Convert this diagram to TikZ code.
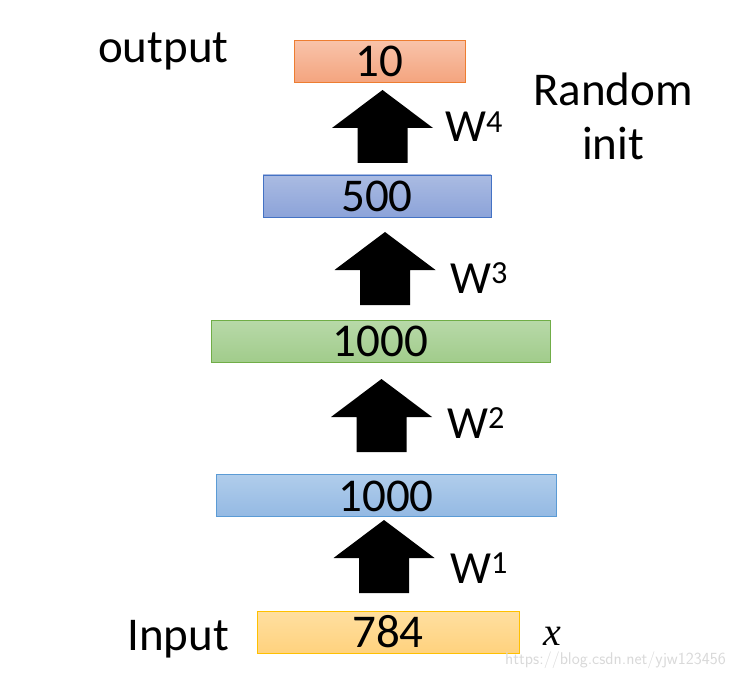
\documentclass[tikz,border=0pt]{standalone}
\usepackage{fontspec}
\setmainfont{Carlito}
\newfontfamily\xfont{Liberation Serif}
\usetikzlibrary{calc}
\definecolor{orBd}{HTML}{ED7D31}\definecolor{orT}{HTML}{F8C3AA}\definecolor{orB}{HTML}{F4A47E}
\definecolor{puBd}{HTML}{4472C4}\definecolor{puT}{HTML}{AABBE2}\definecolor{puB}{HTML}{8CA3D9}
\definecolor{grBd}{HTML}{70AD47}\definecolor{grT}{HTML}{B8D9A9}\definecolor{grB}{HTML}{A1CC8B}
\definecolor{blBd}{HTML}{5B9BD5}\definecolor{blT}{HTML}{B0CDEB}\definecolor{blB}{HTML}{94B9E3}
\definecolor{yeBd}{HTML}{FFC000}\definecolor{yeT}{HTML}{FFDFA0}\definecolor{yeB}{HTML}{FFD27E}
\tikzset{
  layer/.style={draw, line width=0.9pt, inner sep=0pt, minimum height=42pt,
    font=\fontsize{47}{47}\selectfont, text depth=0pt, text height=31pt},
  lbl/.style={font=\fontsize{47}{47}\selectfont, inner sep=0pt, anchor=base west},
  wlbl/.style={font=\fontsize{46}{46}\selectfont, inner sep=0pt, anchor=base west},
}
\newcommand{\blockup}[2]{% center x, tip y
  \fill (#1,#2) -- ++(50.5,38) -- ++(-25.5,0) -- ++(0,35) -- ++(-50,0) -- ++(0,-35) -- ++(-25.5,0) -- cycle;}
\begin{document}
\begin{tikzpicture}[x=1pt,y=-1pt]
\useasboundingbox (0,0) rectangle (738,676);
% layers
\node[layer, draw=orBd, top color=orT, bottom color=orB, minimum width=171pt] (l10) at (379.5,61.5) {10};
\node[layer, draw=puBd, top color=puT, bottom color=puB, minimum width=228pt] (l500) at (377,196) {500};
\node[layer, draw=grBd, top color=grT, bottom color=grB, minimum width=339pt] (l1000b) at (380.5,341) {1000};
\node[layer, draw=blBd, top color=blT, bottom color=blB, minimum width=340pt] (l1000a) at (386,495.5) {1000};
\node[layer, draw=yeBd, top color=yeT, bottom color=yeB, minimum width=262pt] (l784) at (388,632) {784};
% block arrows
\blockup{382.5}{90}
\blockup{385}{232}
\blockup{381.5}{379}
\blockup{384}{520}
% weight labels
\node[wlbl] (w4) at (445,142) {W\textsuperscript{4}};
\node[wlbl] (w3) at (450,293) {W\textsuperscript{3}};
\node[wlbl] (w2) at (447,438) {W\textsuperscript{2}};
\node[wlbl] (w1) at (450,583) {W\textsuperscript{1}};
% side labels
\node[lbl] (out) at (98,63) {output};
\node[lbl] (inp) at (127,650) {Input};
\node[font=\fontsize{47}{47}\selectfont, inner sep=0pt, anchor=base] (rnd) at (613,106) {Random};
\node[font=\fontsize{47}{47}\selectfont, inner sep=0pt, anchor=base] (init) at (613,160) {init};
\node[inner sep=0pt, anchor=base west, font=\fontsize{40}{40}\selectfont\xfont\itshape] (xv) at (543,645) {x};
% watermark
\node[inner sep=0pt, anchor=base west, text=black!15, font=\fontsize{17}{17}\selectfont\sffamily] (wm) at (505,664) {https://blog.csdn.net/yjw123456};
\end{tikzpicture}
\end{document}
